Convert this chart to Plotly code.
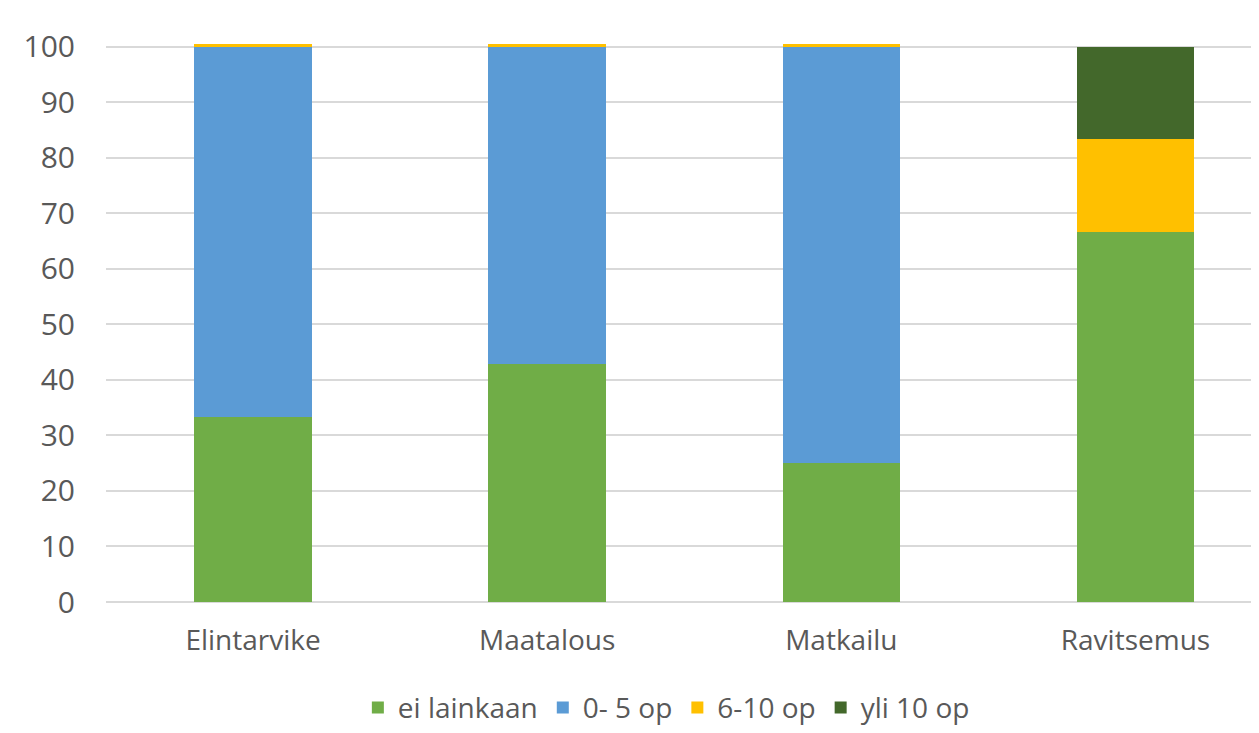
import plotly.graph_objects as go

categories = ["Elintarvike", "Maatalous", "Matkailu", "Ravitsemus"]
series_names = ["ei lainkaan", "0- 5 op", "6-10 op", "yli 10 op"]
ei_lainkaan = [33.3, 42.9, 25.0, 66.7]
op_0_5 = [66.7, 57.1, 75.0, 0.0]
op_6_10 = [0.5, 0.5, 0.5, 16.7]
yli_10 = [0.0, 0.0, 0.0, 16.6]
y_ticks = [0, 10, 20, 30, 40, 50, 60, 70, 80, 90, 100]

colors = ["#70AD47", "#5B9BD5", "#FFC000", "#43682B"]
values = [ei_lainkaan, op_0_5, op_6_10, yli_10]

fig = go.Figure()
for name, vals, col in zip(series_names, values, colors):
    fig.add_trace(go.Bar(x=categories, y=vals, name=name,
                         marker=dict(color=col, line=dict(width=0)),
                         width=0.4))

font_family = "Open Sans, Noto Sans, sans-serif"
fig.update_layout(
    barmode="stack",
    width=1251, height=725,
    margin=dict(l=98, r=0, t=33, b=131),
    paper_bgcolor="white", plot_bgcolor="white",
    font=dict(family=font_family, color="#595959", size=28),
    showlegend=True,
    legend=dict(orientation="h", x=0.486, xanchor="center", y=-0.233, yanchor="bottom",
                font=dict(size=28, color="#595959"), traceorder="normal"),
    xaxis=dict(range=[-0.5, 3.42], showgrid=False, showline=False, ticks="",
               tickfont=dict(size=28, color="#595959"), ticklabelstandoff=19),
    yaxis=dict(range=[0, 101], tickvals=y_ticks, showgrid=True, gridcolor="#D9D9D9",
               gridwidth=2, zeroline=True, zerolinecolor="#D9D9D9", zerolinewidth=2,
               tickfont=dict(size=30, color="#595959"), ticklabelstandoff=30),
)

fig.write_html("out.html")
